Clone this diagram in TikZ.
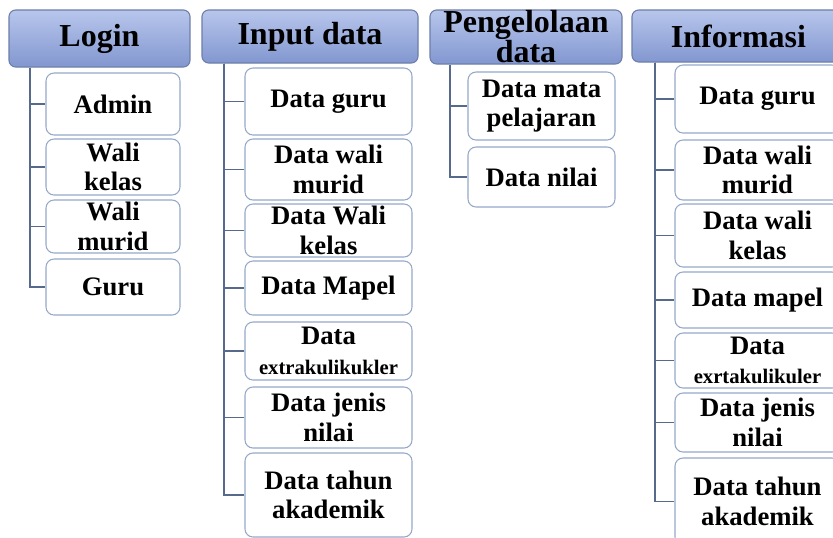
\documentclass[tikz,border=0pt]{standalone}
\usepackage{fontspec}
\setmainfont{Liberation Serif}[BoldFont={Liberation Serif Bold}]
\newfontfamily\tnrb{Liberation Serif Bold}
\usepackage{graphicx}
\definecolor{hdrtop}{RGB}{184,198,236}
\definecolor{hdrbot}{RGB}{130,151,208}
\definecolor{hdrdraw}{RGB}{108,126,168}
\definecolor{boxdraw}{RGB}{150,168,200}
\definecolor{connc}{RGB}{88,106,140}
\tikzset{
  hdr/.style={draw=hdrdraw, line width=0.8pt, rounded corners=5pt, top color=hdrtop, bottom color=hdrbot,
    inner sep=0pt, align=center, font=\tnrb\fontsize{24}{22.5}\selectfont},
  child/.style={draw=boxdraw, line width=0.8pt, rounded corners=6pt, fill=white,
    inner sep=0pt, align=center, font=\tnrb\fontsize{20}{22}\selectfont},
  conn/.style={draw=connc, line width=0.9pt},
}
\newcommand{\bx}[7]{\node[#1, minimum width={(#5-#3)*0.75pt}, minimum height={(#6-#4)*0.75pt}] (#2) at ({(#3+#5)/2},{(#4+#6)/2}) {#7};}
\newcommand{\smalltxt}[1]{{\fontsize{15.5}{17}\selectfont #1}}
\begin{document}
\begin{tikzpicture}[x=0.75pt,y=-0.75pt]
\clip (0,0) rectangle (833,537);
\fill[white] (0,0) rectangle (833,537);
% coordinates for vertical trunks
\coordinate (Lx) at (30,0);
\coordinate (Ix) at (224,0);
\coordinate (Px) at (450,0);
\coordinate (Nx) at (655,0);
% Login
\bx{hdr}{hL}{9}{10}{190}{67}{Login}
\bx{child}{l1}{46}{73}{180}{135}{Admin}
\bx{child}{l2}{46}{139}{180}{195}{Wali\\kelas}
\bx{child}{l3}{46}{200}{180}{253}{Wali\\murid}
\bx{child}{l4}{46}{259}{180}{315}{Guru}
\foreach \c in {l1,l2,l3,l4} \draw[conn] (hL.south -| Lx) |- (\c.west);
% Input data
\bx{hdr}{hI}{202}{10}{418}{63}{Input data}
\bx{child}{i1}{245}{68}{412}{135}{Data guru}
\bx{child}{i2}{245}{139}{412}{200}{Data wali\\murid}
\bx{child}{i3}{245}{204}{412}{257}{Data Wali\\kelas}
\bx{child}{i4}{245}{261}{412}{315}{Data Mapel}
\bx{child}{i5}{245}{322}{412}{380}{Data\\\smalltxt{extrakulikukler}}
\bx{child}{i6}{245}{387}{412}{448}{Data jenis\\nilai}
\bx{child}{i7}{245}{453}{412}{537}{Data tahun\\akademik}
\foreach \c in {i1,i2,i3,i4,i5,i6,i7} \draw[conn] (hI.south -| Ix) |- (\c.west);
% Pengelolaan data
\bx{hdr}{hP}{430}{10}{622}{64}{Pengelolaan\\data}
\bx{child}{p1}{468}{72}{615}{140}{Data mata\\pelajaran}
\bx{child}{p2}{468}{147}{615}{207}{Data nilai}
\foreach \c in {p1,p2} \draw[conn] (hP.south -| Px) |- (\c.west);
% Informasi
\bx{hdr}{hN}{632}{10}{845}{62}{Informasi}
\bx{child}{n1}{675}{65}{840}{133}{Data guru}
\bx{child}{n2}{675}{140}{840}{200}{Data wali\\murid}
\bx{child}{n3}{675}{204}{840}{267}{Data wali\\kelas}
\bx{child}{n4}{675}{272}{840}{328}{Data mapel}
\bx{child}{n5}{675}{333}{840}{388}{Data\\\smalltxt{exrtakulikuler}}
\bx{child}{n6}{675}{393}{840}{452}{Data jenis\\nilai}
\bx{child}{n7}{675}{458}{840}{545}{Data tahun\\akademik}
\foreach \c in {n1,n2,n3,n4,n5,n6,n7} \draw[conn] (hN.south -| Nx) |- (\c.west);
\end{tikzpicture}
\end{document}
